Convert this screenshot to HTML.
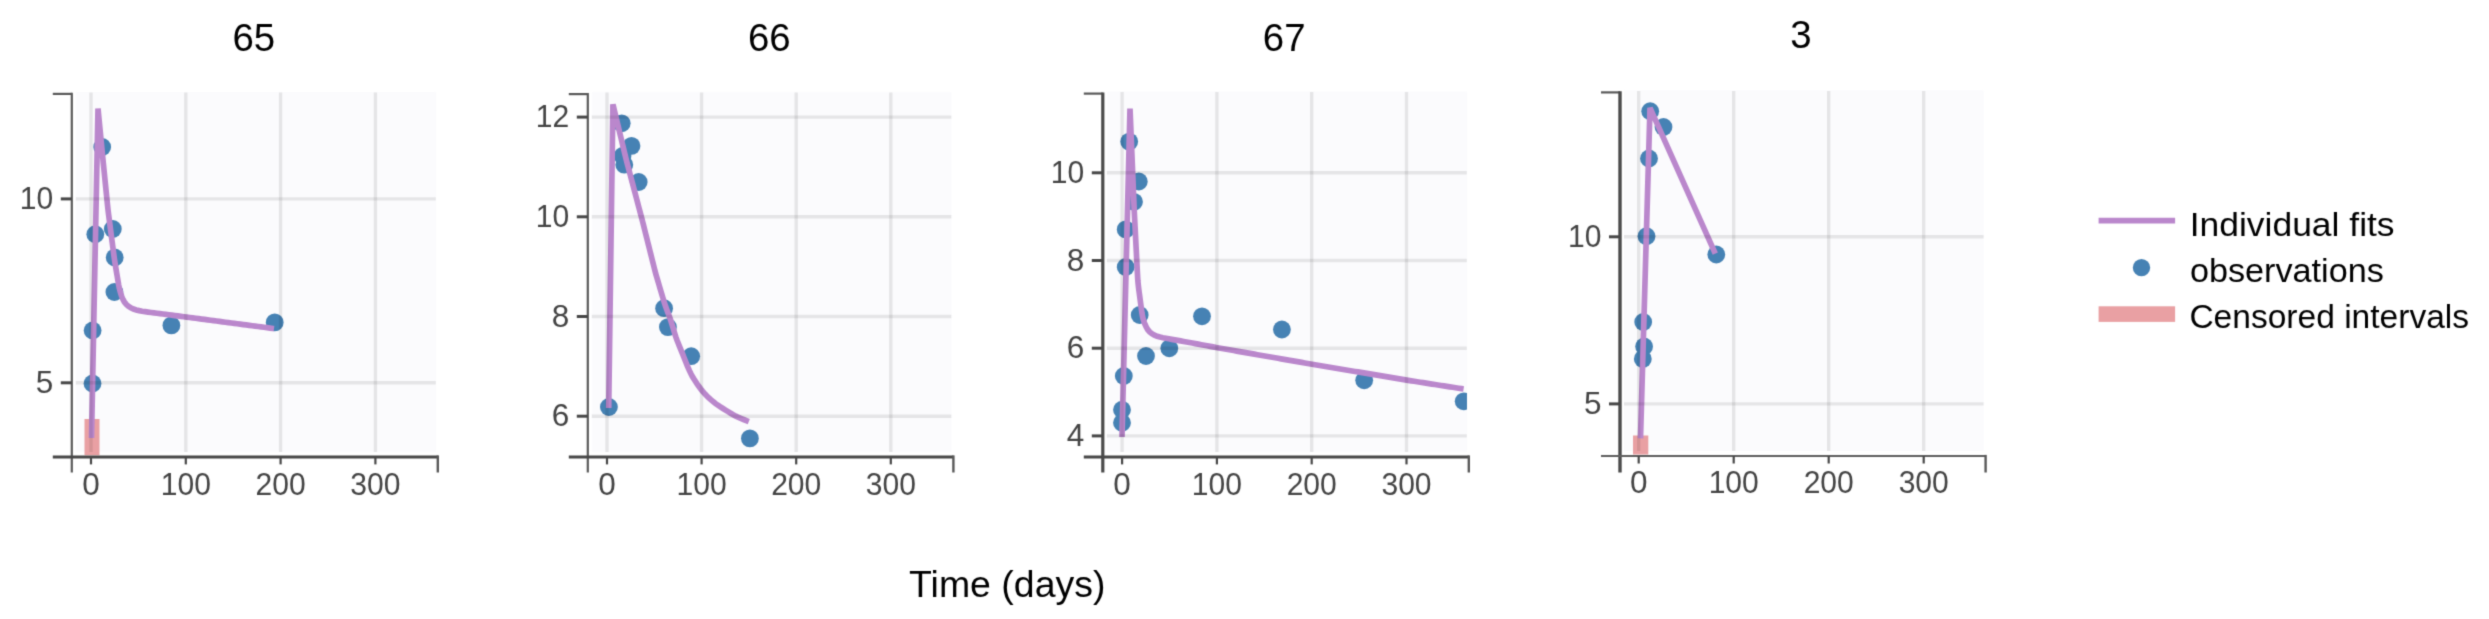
<!DOCTYPE html><html><head><meta charset="utf-8"><style>html,body{margin:0;padding:0;background:#fff;overflow:hidden;}svg{display:block;}text{font-family:"Liberation Sans",sans-serif;}</style></head><body>
<svg width="2489" height="619" viewBox="0 0 2489 619">
<defs><filter id="soft" filterUnits="userSpaceOnUse" x="0" y="0" width="2489" height="619" color-interpolation-filters="sRGB"><feConvolveMatrix order="3" kernelMatrix="0.0225 0.1050 0.0225 0.1050 0.4900 0.1050 0.0225 0.1050 0.0225" divisor="1" edgeMode="duplicate"/></filter></defs>
<rect width="2489" height="619" fill="#fff"/>
<g filter="url(#soft)">
<rect x="75.8" y="91.9" width="360" height="360.0" fill="#fbfbfd"/>
<defs><clipPath id="c0"><rect x="72.8" y="89.9" width="363.2" height="367.0"/></clipPath></defs>
<g clip-path="url(#c0)">
<rect x="84.5" y="419" width="15" height="36.3" fill="#e9a0a3"/>
<circle cx="92.5" cy="383.5" r="8.9" fill="#4682b4"/>
<circle cx="92.6" cy="330.5" r="8.9" fill="#4682b4"/>
<circle cx="95.3" cy="234.2" r="8.9" fill="#4682b4"/>
<circle cx="112.8" cy="229" r="8.9" fill="#4682b4"/>
<circle cx="114.7" cy="257.5" r="8.9" fill="#4682b4"/>
<circle cx="114.4" cy="292" r="8.9" fill="#4682b4"/>
<circle cx="102.2" cy="147" r="8.9" fill="#4682b4"/>
<circle cx="171.4" cy="325.4" r="8.9" fill="#4682b4"/>
<circle cx="274.7" cy="322.4" r="8.9" fill="#4682b4"/>
<path d="M91.5,438 L98,108.5 L98.10,109.50 L98.38,112.48 L98.67,115.47 L98.96,118.45 L99.25,121.44 L99.54,124.43 L99.82,127.41 L100.11,130.40 L100.40,133.39 L100.69,136.37 L100.97,139.36 L101.26,142.35 L101.55,145.33 L101.84,148.32 L102.13,151.31 L102.43,154.29 L102.73,157.28 L103.03,160.26 L103.32,163.25 L103.62,166.23 L103.92,169.22 L104.22,172.20 L104.52,175.19 L104.82,178.17 L105.12,181.16 L105.41,184.15 L105.71,187.13 L106.01,190.12 L106.31,193.10 L106.61,196.09 L106.91,199.07 L107.21,202.06 L107.51,205.04 L107.83,208.03 L108.16,211.01 L108.53,213.98 L108.91,216.96 L109.29,219.94 L109.68,222.91 L110.07,225.89 L110.45,228.86 L110.84,231.84 L111.23,234.81 L111.61,237.79 L112.00,240.76 L112.39,243.74 L112.77,246.71 L113.16,249.69 L113.55,252.66 L113.94,255.64 L114.36,258.61 L114.80,261.58 L115.27,264.54 L115.75,267.50 L116.24,270.46 L116.74,273.42 L117.23,276.38 L117.72,279.34 L118.22,282.30 L118.74,285.25 L119.33,288.19 L120.04,291.09 L120.88,293.96 L121.84,296.78 L122.99,299.51 L124.43,302.03 L126.25,304.30 L128.39,306.26 L130.82,307.84 L133.48,309.02 L136.30,309.91 L139.20,310.62 L142.14,311.19 L145.10,311.66 L148.07,312.07 L151.04,312.47 L154.02,312.86 L156.99,313.25 L159.97,313.64 L162.94,314.02 L165.92,314.41 L168.89,314.79 L171.87,315.18 L174.84,315.56 L177.82,315.94 L180.79,316.33 L183.77,316.71 L186.75,317.10 L189.72,317.49 L192.69,317.88 L195.67,318.27 L198.64,318.67 L201.62,319.06 L204.59,319.45 L207.57,319.84 L210.54,320.24 L213.52,320.63 L216.49,321.02 L219.47,321.41 L222.44,321.80 L225.42,322.20 L228.39,322.59 L231.36,322.98 L234.34,323.37 L237.31,323.76 L240.29,324.16 L243.26,324.55 L246.24,324.94 L249.21,325.33 L252.19,325.72 L255.16,326.12 L258.14,326.51 L261.11,326.90 L264.08,327.29 L267.06,327.69 L270.03,328.08 L273.01,328.47 L274.00,328.60" fill="none" stroke="#ba87cc" stroke-width="5.7" stroke-linejoin="miter"/>
</g>
<line x1="91.0" y1="92.4" x2="91.0" y2="451.9" stroke="rgba(0,0,0,0.085)" stroke-width="3.4"/>
<line x1="185.8" y1="92.4" x2="185.8" y2="451.9" stroke="rgba(0,0,0,0.085)" stroke-width="3.4"/>
<line x1="280.6" y1="92.4" x2="280.6" y2="451.9" stroke="rgba(0,0,0,0.085)" stroke-width="3.4"/>
<line x1="375.4" y1="92.4" x2="375.4" y2="451.9" stroke="rgba(0,0,0,0.085)" stroke-width="3.4"/>
<line x1="75.8" y1="198.9" x2="435.8" y2="198.9" stroke="rgba(0,0,0,0.085)" stroke-width="3.4"/>
<line x1="75.8" y1="382.8" x2="435.8" y2="382.8" stroke="rgba(0,0,0,0.085)" stroke-width="3.4"/>
<path d="M52.8,93.9 H71.8" fill="none" stroke="#585858" stroke-width="2.2"/>
<path d="M71.8,92.80000000000001 V472.5" fill="none" stroke="#5a5a5a" stroke-width="2.2"/>
<path d="M52.8,456.9 H437.8" fill="none" stroke="#474747" stroke-width="3.0"/>
<path d="M437.8,455.4 V472.5" fill="none" stroke="#585858" stroke-width="2.4"/>
<line x1="91.0" y1="456.9" x2="91.0" y2="464.4" stroke="#474747" stroke-width="2.2"/>
<text x="91.00" y="494.80" font-size="31.5" fill="#444" text-anchor="middle">0</text>
<line x1="185.8" y1="456.9" x2="185.8" y2="464.4" stroke="#474747" stroke-width="2.2"/>
<text transform="translate(185.80,494.80) scale(0.955,1)" font-size="31.5" fill="#444" text-anchor="middle">100</text>
<line x1="280.6" y1="456.9" x2="280.6" y2="464.4" stroke="#474747" stroke-width="2.2"/>
<text transform="translate(280.60,494.80) scale(0.955,1)" font-size="31.5" fill="#444" text-anchor="middle">200</text>
<line x1="375.4" y1="456.9" x2="375.4" y2="464.4" stroke="#474747" stroke-width="2.2"/>
<text transform="translate(375.40,494.80) scale(0.955,1)" font-size="31.5" fill="#444" text-anchor="middle">300</text>
<line x1="60.8" y1="198.9" x2="71.8" y2="198.9" stroke="#474747" stroke-width="3"/>
<text transform="translate(53.30,208.90) scale(0.955,1)" font-size="31.5" fill="#444" text-anchor="end">10</text>
<line x1="60.8" y1="382.8" x2="71.8" y2="382.8" stroke="#474747" stroke-width="3"/>
<text x="53.30" y="392.80" font-size="31.5" fill="#444" text-anchor="end">5</text>
<text x="253.85" y="50.60" font-size="38.4" fill="#000" text-anchor="middle">65</text>
<rect x="591.8" y="92.1" width="359.6" height="359.79999999999995" fill="#fbfbfd"/>
<defs><clipPath id="c1"><rect x="588.8" y="90.1" width="362.8" height="366.79999999999995"/></clipPath></defs>
<g clip-path="url(#c1)">
<circle cx="608.9" cy="407" r="8.9" fill="#4682b4"/>
<circle cx="621.7" cy="123.3" r="8.9" fill="#4682b4"/>
<circle cx="631.5" cy="145.9" r="8.9" fill="#4682b4"/>
<circle cx="622.5" cy="156" r="8.9" fill="#4682b4"/>
<circle cx="624.3" cy="164.7" r="8.9" fill="#4682b4"/>
<circle cx="638.7" cy="182" r="8.9" fill="#4682b4"/>
<circle cx="664.1" cy="308.2" r="8.9" fill="#4682b4"/>
<circle cx="667.9" cy="327.1" r="8.9" fill="#4682b4"/>
<circle cx="691.2" cy="356.2" r="8.9" fill="#4682b4"/>
<circle cx="749.9" cy="438.4" r="8.9" fill="#4682b4"/>
<path d="M608.7,408 L612.9,104.3 L613.13,105.27 L613.84,108.20 L614.54,111.12 L615.25,114.05 L615.95,116.97 L616.65,119.90 L617.36,122.82 L618.06,125.75 L618.76,128.67 L619.47,131.60 L620.17,134.52 L620.87,137.44 L621.58,140.37 L622.28,143.29 L622.98,146.22 L623.69,149.14 L624.39,152.07 L625.10,154.99 L625.81,157.91 L626.54,160.83 L627.30,163.74 L628.06,166.65 L628.83,169.56 L629.60,172.47 L630.37,175.37 L631.14,178.28 L631.92,181.19 L632.69,184.10 L633.46,187.00 L634.23,189.91 L635.00,192.82 L635.77,195.73 L636.54,198.64 L637.31,201.54 L638.08,204.45 L638.85,207.36 L639.62,210.27 L640.39,213.17 L641.16,216.08 L641.92,218.99 L642.67,221.90 L643.41,224.82 L644.15,227.74 L644.88,230.65 L645.61,233.57 L646.35,236.49 L647.08,239.41 L647.81,242.32 L648.55,245.24 L649.28,248.16 L650.01,251.07 L650.75,253.99 L651.48,256.91 L652.21,259.83 L652.95,262.74 L653.68,265.66 L654.42,268.58 L655.17,271.49 L655.95,274.39 L656.79,277.28 L657.64,280.17 L658.49,283.05 L659.35,285.94 L660.20,288.82 L661.06,291.70 L661.91,294.59 L662.77,297.47 L663.63,300.35 L664.51,303.23 L665.47,306.08 L666.49,308.90 L667.55,311.72 L668.62,314.53 L669.67,317.35 L670.67,320.18 L671.59,323.05 L672.46,325.92 L673.32,328.81 L674.18,331.69 L675.06,334.57 L675.99,337.42 L677.03,340.24 L678.14,343.04 L679.27,345.82 L680.40,348.61 L681.53,351.40 L682.66,354.19 L683.77,356.98 L684.87,359.78 L685.98,362.57 L687.13,365.36 L688.32,368.12 L689.54,370.87 L690.82,373.58 L692.24,376.23 L693.79,378.80 L695.40,381.34 L697.06,383.84 L698.79,386.30 L700.59,388.71 L702.46,391.06 L704.43,393.33 L706.47,395.53 L708.59,397.65 L710.82,399.66 L713.12,401.60 L715.48,403.47 L717.91,405.22 L720.43,406.87 L722.97,408.48 L725.52,410.07 L728.09,411.63 L730.66,413.19 L733.25,414.72 L735.88,416.17 L738.58,417.46 L741.35,418.63 L744.14,419.74 L746.94,420.86 L748.80,421.60" fill="none" stroke="#ba87cc" stroke-width="5.7" stroke-linejoin="miter"/>
</g>
<line x1="607.0" y1="92.6" x2="607.0" y2="451.9" stroke="rgba(0,0,0,0.085)" stroke-width="3.4"/>
<line x1="701.6" y1="92.6" x2="701.6" y2="451.9" stroke="rgba(0,0,0,0.085)" stroke-width="3.4"/>
<line x1="796.2" y1="92.6" x2="796.2" y2="451.9" stroke="rgba(0,0,0,0.085)" stroke-width="3.4"/>
<line x1="890.8" y1="92.6" x2="890.8" y2="451.9" stroke="rgba(0,0,0,0.085)" stroke-width="3.4"/>
<line x1="591.8" y1="117.1" x2="951.4" y2="117.1" stroke="rgba(0,0,0,0.085)" stroke-width="3.4"/>
<line x1="591.8" y1="216.8" x2="951.4" y2="216.8" stroke="rgba(0,0,0,0.085)" stroke-width="3.4"/>
<line x1="591.8" y1="316.5" x2="951.4" y2="316.5" stroke="rgba(0,0,0,0.085)" stroke-width="3.4"/>
<line x1="591.8" y1="416.2" x2="951.4" y2="416.2" stroke="rgba(0,0,0,0.085)" stroke-width="3.4"/>
<path d="M568.8,94.1 H587.8" fill="none" stroke="#585858" stroke-width="2.2"/>
<path d="M587.8,93.0 V472.5" fill="none" stroke="#5a5a5a" stroke-width="2.2"/>
<path d="M568.8,456.9 H953.4" fill="none" stroke="#474747" stroke-width="3.0"/>
<path d="M953.4,455.4 V472.5" fill="none" stroke="#585858" stroke-width="2.4"/>
<line x1="607.0" y1="456.9" x2="607.0" y2="464.4" stroke="#474747" stroke-width="2.2"/>
<text x="607.00" y="494.80" font-size="31.5" fill="#444" text-anchor="middle">0</text>
<line x1="701.6" y1="456.9" x2="701.6" y2="464.4" stroke="#474747" stroke-width="2.2"/>
<text transform="translate(701.60,494.80) scale(0.955,1)" font-size="31.5" fill="#444" text-anchor="middle">100</text>
<line x1="796.2" y1="456.9" x2="796.2" y2="464.4" stroke="#474747" stroke-width="2.2"/>
<text transform="translate(796.20,494.80) scale(0.955,1)" font-size="31.5" fill="#444" text-anchor="middle">200</text>
<line x1="890.8" y1="456.9" x2="890.8" y2="464.4" stroke="#474747" stroke-width="2.2"/>
<text transform="translate(890.80,494.80) scale(0.955,1)" font-size="31.5" fill="#444" text-anchor="middle">300</text>
<line x1="576.8" y1="117.1" x2="587.8" y2="117.1" stroke="#474747" stroke-width="3"/>
<text transform="translate(569.30,127.10) scale(0.955,1)" font-size="31.5" fill="#444" text-anchor="end">12</text>
<line x1="576.8" y1="216.8" x2="587.8" y2="216.8" stroke="#474747" stroke-width="3"/>
<text transform="translate(569.30,226.80) scale(0.955,1)" font-size="31.5" fill="#444" text-anchor="end">10</text>
<line x1="576.8" y1="316.5" x2="587.8" y2="316.5" stroke="#474747" stroke-width="3"/>
<text x="569.30" y="326.50" font-size="31.5" fill="#444" text-anchor="end">8</text>
<line x1="576.8" y1="416.2" x2="587.8" y2="416.2" stroke="#474747" stroke-width="3"/>
<text x="569.30" y="426.20" font-size="31.5" fill="#444" text-anchor="end">6</text>
<text x="769.35" y="50.80" font-size="38.4" fill="#000" text-anchor="middle">66</text>
<rect x="1106.8" y="91.6" width="360" height="360.29999999999995" fill="#fbfbfd"/>
<defs><clipPath id="c2"><rect x="1103.8" y="89.6" width="363.2" height="367.29999999999995"/></clipPath></defs>
<g clip-path="url(#c2)">
<circle cx="1129.2" cy="141.6" r="8.9" fill="#4682b4"/>
<circle cx="1138.8" cy="181.5" r="8.9" fill="#4682b4"/>
<circle cx="1134" cy="201.8" r="8.9" fill="#4682b4"/>
<circle cx="1125.7" cy="229.4" r="8.9" fill="#4682b4"/>
<circle cx="1125.7" cy="267" r="8.9" fill="#4682b4"/>
<circle cx="1139.7" cy="315" r="8.9" fill="#4682b4"/>
<circle cx="1202" cy="316.3" r="8.9" fill="#4682b4"/>
<circle cx="1146" cy="356" r="8.9" fill="#4682b4"/>
<circle cx="1169.3" cy="348.3" r="8.9" fill="#4682b4"/>
<circle cx="1123.8" cy="376" r="8.9" fill="#4682b4"/>
<circle cx="1122" cy="409.7" r="8.9" fill="#4682b4"/>
<circle cx="1122" cy="422.8" r="8.9" fill="#4682b4"/>
<circle cx="1281.9" cy="329.5" r="8.9" fill="#4682b4"/>
<circle cx="1364.2" cy="380.3" r="8.9" fill="#4682b4"/>
<circle cx="1463.7" cy="401.3" r="8.9" fill="#4682b4"/>
<path d="M1122,437 L1130,108.5 L1130.04,109.50 L1130.17,112.50 L1130.29,115.49 L1130.41,118.49 L1130.54,121.49 L1130.66,124.49 L1130.79,127.49 L1130.91,130.48 L1131.03,133.48 L1131.16,136.48 L1131.28,139.48 L1131.41,142.48 L1131.53,145.47 L1131.65,148.47 L1131.78,151.47 L1131.90,154.47 L1132.03,157.46 L1132.15,160.46 L1132.27,163.46 L1132.40,166.46 L1132.52,169.46 L1132.65,172.45 L1132.77,175.45 L1132.89,178.45 L1133.02,181.45 L1133.14,184.44 L1133.27,187.44 L1133.39,190.44 L1133.51,193.44 L1133.64,196.44 L1133.76,199.43 L1133.89,202.43 L1134.01,205.43 L1134.14,208.43 L1134.28,211.42 L1134.43,214.42 L1134.58,217.42 L1134.73,220.41 L1134.88,223.41 L1135.03,226.41 L1135.19,229.40 L1135.34,232.40 L1135.49,235.40 L1135.65,238.39 L1135.80,241.39 L1135.95,244.39 L1136.10,247.38 L1136.26,250.38 L1136.41,253.37 L1136.56,256.37 L1136.71,259.37 L1136.87,262.36 L1137.02,265.36 L1137.17,268.36 L1137.32,271.35 L1137.48,274.35 L1137.64,277.35 L1137.83,280.34 L1138.09,283.33 L1138.41,286.31 L1138.78,289.28 L1139.16,292.26 L1139.56,295.23 L1139.95,298.21 L1140.34,301.18 L1140.74,304.16 L1141.13,307.13 L1141.53,310.10 L1141.95,313.07 L1142.44,316.02 L1143.12,318.92 L1144.01,321.75 L1145.10,324.53 L1146.34,327.22 L1147.82,329.71 L1149.68,331.88 L1151.92,333.69 L1154.45,335.16 L1157.16,336.28 L1160.00,337.10 L1162.92,337.72 L1165.87,338.27 L1168.82,338.80 L1171.77,339.33 L1174.72,339.86 L1177.68,340.39 L1180.63,340.92 L1183.58,341.45 L1186.54,341.98 L1189.49,342.52 L1192.44,343.06 L1195.39,343.60 L1198.34,344.15 L1201.29,344.70 L1204.24,345.25 L1207.19,345.80 L1210.14,346.35 L1213.09,346.89 L1216.04,347.44 L1218.99,347.97 L1221.95,348.49 L1224.90,349.01 L1227.86,349.53 L1230.81,350.04 L1233.77,350.56 L1236.73,351.07 L1239.68,351.59 L1242.64,352.11 L1245.59,352.62 L1248.55,353.14 L1251.50,353.65 L1254.46,354.17 L1257.41,354.69 L1260.37,355.20 L1263.33,355.72 L1266.28,356.23 L1269.24,356.75 L1272.19,357.27 L1275.15,357.78 L1278.10,358.30 L1281.06,358.82 L1284.02,359.33 L1286.97,359.85 L1289.93,360.36 L1292.88,360.88 L1295.84,361.40 L1298.79,361.91 L1301.75,362.43 L1304.71,362.94 L1307.66,363.46 L1310.62,363.97 L1313.57,364.48 L1316.53,364.98 L1319.49,365.47 L1322.45,365.97 L1325.41,366.47 L1328.37,366.97 L1331.33,367.46 L1334.29,367.96 L1337.25,368.46 L1340.20,368.95 L1343.16,369.45 L1346.12,369.95 L1349.08,370.44 L1352.04,370.94 L1355.00,371.44 L1357.96,371.93 L1360.92,372.43 L1363.88,372.93 L1366.84,373.42 L1369.79,373.92 L1372.75,374.42 L1375.71,374.91 L1378.67,375.41 L1381.63,375.91 L1384.59,376.40 L1387.55,376.90 L1390.51,377.40 L1393.47,377.90 L1396.42,378.39 L1399.38,378.89 L1402.34,379.38 L1405.30,379.87 L1408.27,380.35 L1411.23,380.82 L1414.19,381.28 L1417.16,381.74 L1420.12,382.21 L1423.09,382.67 L1426.05,383.13 L1429.02,383.60 L1431.98,384.06 L1434.94,384.52 L1437.91,384.99 L1440.87,385.45 L1443.84,385.91 L1446.80,386.38 L1449.77,386.84 L1452.73,387.30 L1455.69,387.76 L1458.66,388.23 L1461.62,388.69 L1463.60,389.00" fill="none" stroke="#ba87cc" stroke-width="5.7" stroke-linejoin="miter"/>
</g>
<line x1="1122.1" y1="92.1" x2="1122.1" y2="451.9" stroke="rgba(0,0,0,0.085)" stroke-width="3.4"/>
<line x1="1216.9" y1="92.1" x2="1216.9" y2="451.9" stroke="rgba(0,0,0,0.085)" stroke-width="3.4"/>
<line x1="1311.7" y1="92.1" x2="1311.7" y2="451.9" stroke="rgba(0,0,0,0.085)" stroke-width="3.4"/>
<line x1="1406.5" y1="92.1" x2="1406.5" y2="451.9" stroke="rgba(0,0,0,0.085)" stroke-width="3.4"/>
<line x1="1106.8" y1="172.8" x2="1466.8" y2="172.8" stroke="rgba(0,0,0,0.085)" stroke-width="3.4"/>
<line x1="1106.8" y1="260.5" x2="1466.8" y2="260.5" stroke="rgba(0,0,0,0.085)" stroke-width="3.4"/>
<line x1="1106.8" y1="348.2" x2="1466.8" y2="348.2" stroke="rgba(0,0,0,0.085)" stroke-width="3.4"/>
<line x1="1106.8" y1="435.9" x2="1466.8" y2="435.9" stroke="rgba(0,0,0,0.085)" stroke-width="3.4"/>
<path d="M1083.8,93.6 H1102.8" fill="none" stroke="#585858" stroke-width="2.2"/>
<path d="M1102.8,92.5 V472.5" fill="none" stroke="#4a4a4a" stroke-width="3.2"/>
<path d="M1083.8,456.9 H1468.8" fill="none" stroke="#474747" stroke-width="3.0"/>
<path d="M1468.8,455.4 V472.5" fill="none" stroke="#585858" stroke-width="2.4"/>
<line x1="1122.1" y1="456.9" x2="1122.1" y2="464.4" stroke="#474747" stroke-width="2.2"/>
<text x="1122.10" y="494.90" font-size="31.5" fill="#444" text-anchor="middle">0</text>
<line x1="1216.9" y1="456.9" x2="1216.9" y2="464.4" stroke="#474747" stroke-width="2.2"/>
<text transform="translate(1216.90,494.90) scale(0.955,1)" font-size="31.5" fill="#444" text-anchor="middle">100</text>
<line x1="1311.7" y1="456.9" x2="1311.7" y2="464.4" stroke="#474747" stroke-width="2.2"/>
<text transform="translate(1311.70,494.90) scale(0.955,1)" font-size="31.5" fill="#444" text-anchor="middle">200</text>
<line x1="1406.5" y1="456.9" x2="1406.5" y2="464.4" stroke="#474747" stroke-width="2.2"/>
<text transform="translate(1406.50,494.90) scale(0.955,1)" font-size="31.5" fill="#444" text-anchor="middle">300</text>
<line x1="1091.8" y1="172.8" x2="1102.8" y2="172.8" stroke="#474747" stroke-width="3"/>
<text transform="translate(1084.30,182.80) scale(0.955,1)" font-size="31.5" fill="#444" text-anchor="end">10</text>
<line x1="1091.8" y1="260.5" x2="1102.8" y2="260.5" stroke="#474747" stroke-width="3"/>
<text x="1084.30" y="270.50" font-size="31.5" fill="#444" text-anchor="end">8</text>
<line x1="1091.8" y1="348.2" x2="1102.8" y2="348.2" stroke="#474747" stroke-width="3"/>
<text x="1084.30" y="358.20" font-size="31.5" fill="#444" text-anchor="end">6</text>
<line x1="1091.8" y1="435.9" x2="1102.8" y2="435.9" stroke="#474747" stroke-width="3"/>
<text x="1084.30" y="445.90" font-size="31.5" fill="#444" text-anchor="end">4</text>
<text x="1284.20" y="50.80" font-size="38.4" fill="#000" text-anchor="middle">67</text>
<rect x="1624" y="90.4" width="359.6" height="360.6" fill="#fbfbfd"/>
<defs><clipPath id="c3"><rect x="1621" y="88.4" width="362.8" height="367.6"/></clipPath></defs>
<g clip-path="url(#c3)">
<rect x="1633" y="435.5" width="15.3" height="19" fill="#e9a0a3"/>
<circle cx="1650.2" cy="111.2" r="8.9" fill="#4682b4"/>
<circle cx="1663.5" cy="127" r="8.9" fill="#4682b4"/>
<circle cx="1649" cy="158.5" r="8.9" fill="#4682b4"/>
<circle cx="1646.5" cy="236.2" r="8.9" fill="#4682b4"/>
<circle cx="1716.3" cy="254.5" r="8.9" fill="#4682b4"/>
<circle cx="1643.2" cy="322" r="8.9" fill="#4682b4"/>
<circle cx="1644.1" cy="346.5" r="8.9" fill="#4682b4"/>
<circle cx="1642.8" cy="358.9" r="8.9" fill="#4682b4"/>
<path d="M1640.5,438.3 L1650,107.8 L1715.3,253.7" fill="none" stroke="#ba87cc" stroke-width="5.7" stroke-linejoin="miter"/>
</g>
<line x1="1638.7" y1="90.9" x2="1638.7" y2="451.0" stroke="rgba(0,0,0,0.085)" stroke-width="3.4"/>
<line x1="1733.7" y1="90.9" x2="1733.7" y2="451.0" stroke="rgba(0,0,0,0.085)" stroke-width="3.4"/>
<line x1="1828.7" y1="90.9" x2="1828.7" y2="451.0" stroke="rgba(0,0,0,0.085)" stroke-width="3.4"/>
<line x1="1923.7" y1="90.9" x2="1923.7" y2="451.0" stroke="rgba(0,0,0,0.085)" stroke-width="3.4"/>
<line x1="1624" y1="236.8" x2="1983.6" y2="236.8" stroke="rgba(0,0,0,0.085)" stroke-width="3.4"/>
<line x1="1624" y1="403.9" x2="1983.6" y2="403.9" stroke="rgba(0,0,0,0.085)" stroke-width="3.4"/>
<path d="M1601,92.4 H1620" fill="none" stroke="#585858" stroke-width="2.2"/>
<path d="M1620,91.30000000000001 V472.5" fill="none" stroke="#4a4a4a" stroke-width="3.4"/>
<path d="M1601,456.0 H1985.6" fill="none" stroke="#5e5e5e" stroke-width="2.2"/>
<path d="M1985.6,454.9 V472.5" fill="none" stroke="#585858" stroke-width="2.4"/>
<line x1="1638.7" y1="456.0" x2="1638.7" y2="463.5" stroke="#474747" stroke-width="2.2"/>
<text x="1638.70" y="492.70" font-size="31.5" fill="#444" text-anchor="middle">0</text>
<line x1="1733.7" y1="456.0" x2="1733.7" y2="463.5" stroke="#474747" stroke-width="2.2"/>
<text transform="translate(1733.70,492.70) scale(0.955,1)" font-size="31.5" fill="#444" text-anchor="middle">100</text>
<line x1="1828.7" y1="456.0" x2="1828.7" y2="463.5" stroke="#474747" stroke-width="2.2"/>
<text transform="translate(1828.70,492.70) scale(0.955,1)" font-size="31.5" fill="#444" text-anchor="middle">200</text>
<line x1="1923.7" y1="456.0" x2="1923.7" y2="463.5" stroke="#474747" stroke-width="2.2"/>
<text transform="translate(1923.70,492.70) scale(0.955,1)" font-size="31.5" fill="#444" text-anchor="middle">300</text>
<line x1="1609" y1="236.8" x2="1620" y2="236.8" stroke="#474747" stroke-width="3"/>
<text transform="translate(1601.50,246.80) scale(0.955,1)" font-size="31.5" fill="#444" text-anchor="end">10</text>
<line x1="1609" y1="403.9" x2="1620" y2="403.9" stroke="#474747" stroke-width="3"/>
<text x="1601.50" y="413.90" font-size="31.5" fill="#444" text-anchor="end">5</text>
<text x="1801.00" y="48.40" font-size="38.4" fill="#000" text-anchor="middle">3</text>
<line x1="2098.6" y1="220.7" x2="2175.1" y2="220.7" stroke="#ba87cc" stroke-width="5.7"/>
<circle cx="2141.5" cy="267.6" r="8.7" fill="#4682b4"/>
<rect x="2098.6" y="306.3" width="76.5" height="15.6" fill="#e9a0a3"/>
<text transform="translate(2189.70,235.70) scale(1.043,1)" font-size="34" fill="#000">Individual fits</text>
<text transform="translate(2189.90,281.50) scale(1.006,1)" font-size="34" fill="#000">observations</text>
<text transform="translate(2189.40,327.50) scale(0.987,1)" font-size="34" fill="#000">Censored intervals</text>
<text transform="translate(909.10,596.80) scale(1.018,1)" font-size="36.8" fill="#000">Time (days)</text>
</g></svg></body></html>
